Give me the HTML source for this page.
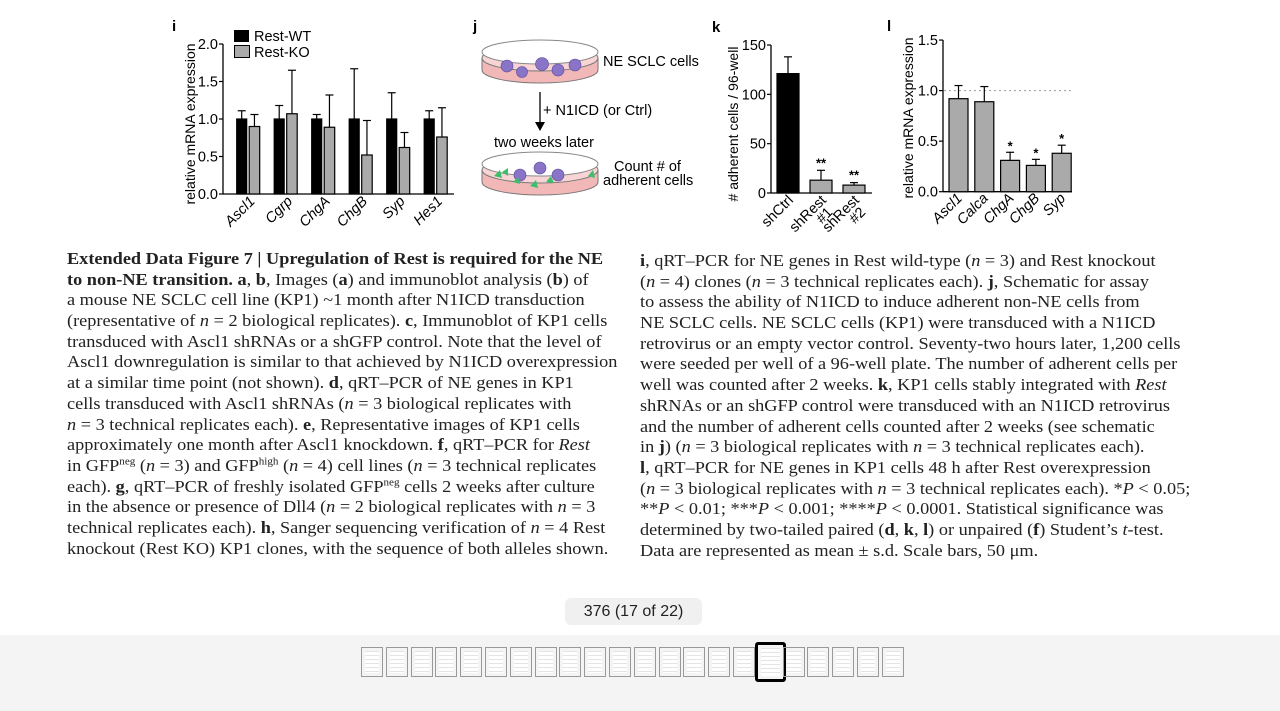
<!DOCTYPE html>
<html><head><meta charset="utf-8">
<style>
body{margin:0;width:1280px;height:711px;background:#fff;overflow:hidden;position:relative;font-family:"Liberation Sans",sans-serif}
.txt{position:absolute;font-family:"Liberation Serif",serif;font-size:16.5px;color:#222;white-space:nowrap;line-height:20.7px;transform:scaleX(1.107);transform-origin:0 0}
.txt div{height:20.7px}
i{font-style:italic}
sup{font-size:10px;line-height:0}
#bar{position:absolute;left:0;top:635px;width:1280px;height:76px;background:#f4f4f4}
#pill{position:absolute;left:565px;top:598px;width:137px;height:27px;background:#f0f0f0;border-radius:6px;font-size:16px;color:#222;text-align:center;line-height:27px}
.th{position:absolute;top:647px;width:22px;height:30px;background:#fff repeating-linear-gradient(#fff 0 3px,#e4e4e4 3px 4px);background-clip:content-box;padding:3px 3px;border:1px solid #999;box-sizing:border-box}
.th.sel{top:642px;left:755px;width:31px;height:40px;border:3px solid #000;border-radius:3px}
</style></head><body>
<svg id="figs" width="1280" height="245" style="position:absolute;left:0;top:0" font-family="Liberation Sans, sans-serif">
 <g id="pi">
  <text x="172" y="31" font-size="15" font-weight="bold">i</text>
  <rect x="234" y="30" width="15" height="12" fill="#000"/>
  <text x="254" y="41" font-size="14.5">Rest-WT</text>
  <rect x="234.5" y="45.5" width="15" height="12" fill="#aaa" stroke="#000"/>
  <text x="254" y="57" font-size="14.5">Rest-KO</text>
  <text transform="translate(195,124) rotate(-90)" text-anchor="middle" font-size="14">relative mRNA expression</text>
 </g>
 <g id="pj">
  <text x="473" y="31" font-size="15" font-weight="bold">j</text>
  <path d="M482 58 L482 70 A58 13 0 0 0 598 70 L598 58 Z" fill="#f2b8b8" stroke="#777"/>
  <ellipse cx="540" cy="58" rx="58" ry="13" fill="#f8d4d4" stroke="#777"/>
  <ellipse cx="540" cy="52" rx="58" ry="12" fill="#fff" stroke="#888"/>
  <g fill="#8a74c8" stroke="#5a4a9a" stroke-width="0.6">
   <circle cx="507" cy="66" r="6"/><circle cx="522" cy="72" r="5.5"/><circle cx="542" cy="64" r="6.5"/><circle cx="558" cy="70" r="6"/><circle cx="575" cy="65" r="6"/>
  </g>
  <text x="603" y="66" font-size="14.5">NE SCLC cells</text>
  <line x1="540" y1="92" x2="540" y2="125" stroke="#000" stroke-width="1.3"/>
  <path d="M535 122 L540 131 L545 122 Z" fill="#000"/>
  <text x="543" y="115" font-size="14.5">+ N1ICD (or Ctrl)</text>
  <text x="494" y="147" font-size="14.5">two weeks later</text>
  <path d="M482 170 L482 182 A58 13 0 0 0 598 182 L598 170 Z" fill="#f2b8b8" stroke="#777"/>
  <ellipse cx="540" cy="170" rx="58" ry="13" fill="#f8d4d4" stroke="#777"/>
  <ellipse cx="540" cy="164" rx="58" ry="12" fill="#fff" stroke="#888"/>
  <g fill="#8a74c8" stroke="#5a4a9a" stroke-width="0.6">
   <circle cx="520" cy="175" r="6"/><circle cx="540" cy="168" r="6"/><circle cx="558" cy="175" r="6"/>
  </g>
  <g fill="#3cbf6a"><path d="M494 176 l6 -6 l2 8z"/><path d="M502 172 l6 -4 l0 8z"/><path d="M530 186 l6 -6 l2 8z"/><path d="M546 182 l5 -6 l3 7z"/><path d="M588 176 l5 -6 l2 8z"/><path d="M513 182 l5 -5 l2 7z"/></g>
  <text x="614" y="171" font-size="14.5">Count # of</text>
  <text x="603" y="185" font-size="14.5">adherent cells</text>
 </g>
 <g id="pk">
  <text x="712" y="32" font-size="15" font-weight="bold">k</text>
  <text transform="translate(738,124) rotate(-90)" text-anchor="middle" font-size="14"># adherent cells / 96-well</text>
 </g>
 <g id="pl">
  <text x="887" y="31" font-size="15" font-weight="bold">l</text>
  <text transform="translate(913,118) rotate(-90)" text-anchor="middle" font-size="14">relative mRNA expression</text>
 </g>
</svg>

<div class="txt" style="left:67px;top:249px">
<div><b>Extended Data Figure 7 | Upregulation of Rest is required for the NE</b></div>
<div><b>to non-NE transition. a</b>, <b>b</b>, Images (<b>a</b>) and immunoblot analysis (<b>b</b>) of</div>
<div>a mouse NE SCLC cell line (KP1) ~1 month after N1ICD transduction</div>
<div>(representative of <i>n</i> = 2 biological replicates). <b>c</b>, Immunoblot of KP1 cells</div>
<div>transduced with Ascl1 shRNAs or a shGFP control. Note that the level of</div>
<div>Ascl1 downregulation is similar to that achieved by N1ICD overexpression</div>
<div>at a similar time point (not shown). <b>d</b>, qRT–PCR of NE genes in KP1</div>
<div>cells transduced with Ascl1 shRNAs (<i>n</i> = 3 biological replicates with</div>
<div><i>n</i> = 3 technical replicates each). <b>e</b>, Representative images of KP1 cells</div>
<div>approximately one month after Ascl1 knockdown. <b>f</b>, qRT–PCR for <i>Rest</i></div>
<div>in GFP<sup>neg</sup> (<i>n</i> = 3) and GFP<sup>high</sup> (<i>n</i> = 4) cell lines (<i>n</i> = 3 technical replicates</div>
<div>each). <b>g</b>, qRT–PCR of freshly isolated GFP<sup>neg</sup> cells 2 weeks after culture</div>
<div>in the absence or presence of Dll4 (<i>n</i> = 2 biological replicates with <i>n</i> = 3</div>
<div>technical replicates each). <b>h</b>, Sanger sequencing verification of <i>n</i> = 4 Rest</div>
<div>knockout (Rest KO) KP1 clones, with the sequence of both alleles shown.</div>
</div>
<div class="txt" style="left:640px;top:251px">
<div><b>i</b>, qRT–PCR for NE genes in Rest wild-type (<i>n</i> = 3) and Rest knockout</div>
<div>(<i>n</i> = 4) clones (<i>n</i> = 3 technical replicates each). <b>j</b>, Schematic for assay</div>
<div>to assess the ability of N1ICD to induce adherent non-NE cells from</div>
<div>NE SCLC cells. NE SCLC cells (KP1) were transduced with a N1ICD</div>
<div>retrovirus or an empty vector control. Seventy-two hours later, 1,200 cells</div>
<div>were seeded per well of a 96-well plate. The number of adherent cells per</div>
<div>well was counted after 2 weeks. <b>k</b>, KP1 cells stably integrated with <i>Rest</i></div>
<div>shRNAs or an shGFP control were transduced with an N1ICD retrovirus</div>
<div>and the number of adherent cells counted after 2 weeks (see schematic</div>
<div>in <b>j</b>) (<i>n</i> = 3 biological replicates with <i>n</i> = 3 technical replicates each).</div>
<div><b>l</b>, qRT–PCR for NE genes in KP1 cells 48 h after Rest overexpression</div>
<div>(<i>n</i> = 3 biological replicates with <i>n</i> = 3 technical replicates each). *<i>P</i> &lt; 0.05;</div>
<div>**<i>P</i> &lt; 0.01; ***<i>P</i> &lt; 0.001; ****<i>P</i> &lt; 0.0001. Statistical significance was</div>
<div>determined by two-tailed paired (<b>d</b>, <b>k</b>, <b>l</b>) or unpaired (<b>f</b>) Student’s <i>t</i>-test.</div>
<div>Data are represented as mean ± s.d. Scale bars, 50 μm.</div>
</div>

<div id="pill">376 (17 of 22)</div>
<div id="bar"></div>

<script>
const iCats=["Ascl1","Cgrp","ChgA","ChgB","Syp","Hes1"];
const iWT=[1,1,1,1,1,1];
const iWTerr=[0.11,0.18,0.06,0.67,0.35,0.11];
const iKO=[0.9,1.07,0.89,0.52,0.62,0.76];
const iKOerr=[0.16,0.58,0.43,0.46,0.2,0.39];
const iTicks=["0.0","0.5","1.0","1.5","2.0"];
const kCats=[["shCtrl"],["shRest","#1"],["shRest","#2"]];
const kVals=[121,13,8];
const kErr=[17,10,2.5];
const kSig=["","**","**"];
const kTicks=["0","50","100","150"];
const lCats=["Ascl1","Calca","ChgA","ChgB","Syp"];
const lVals=[0.92,0.89,0.31,0.26,0.38];
const lErr=[0.13,0.15,0.08,0.06,0.08];
const lSig=["","","*","*","*"];
const lTicks=["0.0","0.5","1.0","1.5"];
const NS="http://www.w3.org/2000/svg";
function mk(p,t,a){const e=document.createElementNS(NS,t);for(const k in a)e.setAttribute(k,a[k]);p.appendChild(e);return e;}
function axes(g,x0,x1,yTop,yBot,ticks,yf){
 const ya=mk(g,'line',{x1:x0,y1:yTop,x2:x0,y2:yBot,stroke:'#000','stroke-width':1.3});
 
 const xa=mk(g,'line',{x1:x0,y1:yBot,x2:x1,y2:yBot,stroke:'#000','stroke-width':1.3});
 
 ticks.forEach(t=>{const y=yf(parseFloat(t));
  mk(g,'line',{x1:x0-4,y1:y,x2:x0,y2:y,stroke:'#000','stroke-width':1.2});
  const tx=mk(g,'text',{x:x0-5,y:y+5,'text-anchor':'end','font-size':14.5});tx.textContent=t;
  
  });
}
function bar(g,x,w,v,e,yf,fill,yb){
 const r=mk(g,'rect',{x:x,y:yf(v),width:w,height:yb-yf(v),fill:fill,stroke:'#000','stroke-width':1.2});
 
 
 const cx=x+w/2,ye=yf(v+e);
 mk(g,'line',{x1:cx,y1:yf(v),x2:cx,y2:ye,stroke:'#000','stroke-width':1.2});
 mk(g,'line',{x1:cx-4,y1:ye,x2:cx+4,y2:ye,stroke:'#000','stroke-width':1.2});
 return ye;
}
function xlabel(g,x,y,lines,ital,dx){
 const t=mk(g,'text',{transform:`translate(${x},${y}) rotate(-45)`,'text-anchor':'end','font-size':14.5,'font-style':ital?'italic':'normal'});
 
 
 lines.forEach((s,j)=>{const ts=mk(t,'tspan',{x:j?(dx||0):0,dy:j?13:0});ts.textContent=s;});
}
// panel i
const gi=document.getElementById('pi');
const yI=v=>194-v*75;
axes(gi,223,454,44,194,iTicks,yI);
iCats.forEach((c,k)=>{const x=236.7+k*37.5;
 bar(gi,x,10,iWT[k],iWTerr[k],yI,'#000',194);
 bar(gi,x+12.5,10.5,iKO[k],iKOerr[k],yI,'#aaa',194);
 xlabel(gi,x+19,202,[c],true);});
// panel k
const gk=document.getElementById('pk');
const yK=v=>193-v*(148/150);
axes(gk,771,872,45,193,kTicks,yK);
kCats.forEach((c,k)=>{const x=777+k*33;
 const ye=bar(gk,x,22,kVals[k],kErr[k],yK,k?'#aaa':'#000',193);
 if(kSig[k]){const s=mk(gk,'text',{x:x+11,y:ye-3,'text-anchor':'middle','font-size':13,'font-weight':'bold'});s.textContent=kSig[k];
  
  }
 xlabel(gk,x+17,201,c,false,-4);});
// panel l
const gl=document.getElementById('pl');
const yL=v=>191.7-v*101.1;
axes(gl,943,1072,40,191.7,lTicks,yL);
mk(gl,'line',{x1:944,y1:yL(1),x2:1072,y2:yL(1),stroke:'#999','stroke-dasharray':'2,3'});
lCats.forEach((c,k)=>{const x=949+k*25.8;
 const ye=bar(gl,x,19,lVals[k],lErr[k],yL,'#aaa',191.7);
 if(lSig[k]){const s=mk(gl,'text',{x:x+9.5,y:ye-2,'text-anchor':'middle','font-size':13,'font-weight':'bold'});s.textContent=lSig[k];
  
  }
 xlabel(gl,x+14,199,[c],true);});
// thumbnails
for(let n=0;n<22;n++){
 const d=document.createElement('div');
 d.className='th'+(n===16?' sel':'');
 if(n!==16)d.style.left=(361+n*24.8)+'px';
 
 
 document.body.appendChild(d);
}
</script>
</body></html>
